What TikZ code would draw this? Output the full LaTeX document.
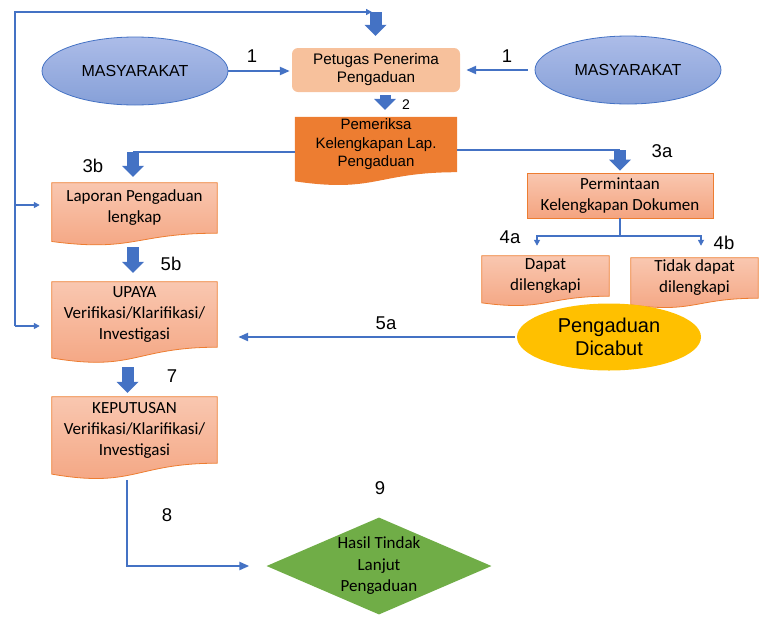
\documentclass[tikz,border=0pt]{standalone}
\usepackage{fontspec}
\newfontfamily\arialf{Liberation Sans}
\newfontfamily\calf{Carlito}
\usetikzlibrary{shapes.geometric,arrows.meta,calc,backgrounds}
\definecolor{lineblue}{HTML}{4472C4}
\definecolor{ellTop}{RGB}{172,188,232}
\definecolor{ellBot}{RGB}{134,160,216}
\definecolor{peach}{HTML}{F7C19C}
\definecolor{darkorange}{HTML}{ED7D31}
\definecolor{salTop}{RGB}{249,199,176}
\definecolor{salBot}{RGB}{244,164,128}
\definecolor{goldfill}{HTML}{FFC000}
\definecolor{leafgreen}{HTML}{70AD47}
% document (wavy bottom) outline around a node whose box is the upper body
\newcommand{\docpath}[2]{%
  \path[#2] let \p1=(#1.north west), \p2=(#1.south east), \n1={\y1-\y2} in
    (\x1,\y1) -- (\x2,\y1) -- (\x2,\y2)
    .. controls ({(\x1+\x2)/2},\y2) and ({(\x1+\x2)/2},{\y2-0.380*\n1}) ..
    (\x1,{\y2-0.1646*\n1}) -- cycle;}
\begin{document}
\begin{tikzpicture}[x=1pt,y=-1pt,
  ell/.style={ellipse, draw=lineblue, line width=0.8pt, top color=ellTop, bottom color=ellBot,
    minimum width=186pt, minimum height=68pt, inner sep=0pt,
    font=\arialf\fontsize{16pt}{19pt}\selectfont},
  pet/.style={rectangle, rounded corners=6pt, fill=peach, minimum width=168pt, minimum height=44pt,
    inner sep=0pt, align=center, font=\arialf\fontsize{15.3pt}{18pt}\selectfont},
  docn/.style={rectangle, inner sep=0pt, align=center, font=\calf\fontsize{17pt}{21pt}\selectfont},
  salfill/.style={top color=salTop, bottom color=salBot, draw=darkorange, line width=0.8pt},
  salrect/.style={rectangle, salfill, inner sep=0pt, align=center, minimum width=186pt, minimum height=45pt,
    font=\calf\fontsize{17pt}{21pt}\selectfont},
  goldell/.style={ellipse, fill=goldfill, minimum width=184pt, minimum height=67pt, inner sep=0pt,
    align=center, font=\arialf\fontsize{20pt}{23pt}\selectfont},
  dia/.style={diamond, fill=leafgreen, minimum width=225pt, minimum height=97pt, inner sep=-3pt,
    aspect=2.32, align=center, font=\calf\fontsize{17pt}{21.5pt}\selectfont},
  num/.style={inner sep=0pt, font=\arialf\fontsize{18.5pt}{20pt}\selectfont},
  numsmall/.style={inner sep=0pt, font=\arialf\fontsize{14pt}{16pt}\selectfont},
  line/.style={draw=lineblue, line width=2.3pt},
  arr/.style={line, -{Triangle[length=10pt,width=8pt]}},
  sarr/.style={draw=lineblue, line width=2pt, -{Triangle[length=6pt,width=6pt]}},
  barrow/.style={draw=lineblue, line width=12pt, -{Triangle[length=11pt,width=22pt,line width=0pt]}}
]
\useasboundingbox (0,0) rectangle (759,627);

% nodes
\node[ell] (m1) at (135,71) {MASYARAKAT};
\node[ell] (m2) at (628,70) {MASYARAKAT};
\node[pet] (pet) at (376,70) {Petugas Penerima\\Pengaduan};
\node[docn, minimum width=162pt, minimum height=55pt, font=\arialf\fontsize{15pt}{18.5pt}\selectfont] (pem) at (376,144.5) {Pemeriksa\\Kelengkapan Lap.\\Pengaduan};
\node[docn, minimum width=165pt, minimum height=50pt] (lap) at (134.5,208) {Laporan Pengaduan\\lengkap};
\node[docn, minimum width=165pt, minimum height=65pt] (upaya) at (134.5,314.5) {UPAYA\\Verifikasi/Klarifikasi/\\Investigasi};
\node[docn, minimum width=165pt, minimum height=66pt] (kep) at (134.5,430) {KEPUTUSAN\\Verifikasi/Klarifikasi/\\Investigasi};
\node[salrect] (perm) at (620,195.5) {Permintaan\\Kelengkapan Dokumen};
\node[docn, minimum width=127pt, minimum height=40pt] (dapat) at (545.5,276) {Dapat\\dilengkapi};
\node[docn, minimum width=127pt, minimum height=40pt] (tidak) at (694.5,278) {Tidak dapat\\dilengkapi};
\node[goldell] (dic) at (609,337) {Pengaduan\\Dicabut};
\node[dia] (dia) at (379,566) {Hasil Tindak\\Lanjut\\Pengaduan};

% document shapes behind the text
\begin{scope}[on background layer]
  \docpath{pem}{fill=darkorange}
  \docpath{lap}{salfill}
  \docpath{upaya}{salfill}
  \docpath{kep}{salfill}
  \docpath{dapat}{salfill}
  \docpath{tidak}{salfill}
\end{scope}

% labels
\node[num] (n1a) at (252,56) {1};
\node[num] (n1b) at (507,56) {1};
\node[numsmall] (n2) at (406,105) {2};
\node[num] (n3b) at (93,166) {3b};
\node[num] (n3a) at (662,151) {3a};
\node[num] (n4a) at (510,237) {4a};
\node[num] (n4b) at (724,243) {4b};
\node[num] (n5b) at (171,264) {5b};
\node[num] (n5a) at (386,323) {5a};
\node[num] (n7) at (172,376) {7};
\node[num] (n8) at (167,515) {8};
\node[num] (n9) at (380,488) {9};

% coordinates
\coordinate (lt) at (15,12);
\coordinate (lm) at (15,205);
\coordinate (lb) at (15,326);
\coordinate (topin) at (375.5,12);
\coordinate (c3b) at (133,152);
\coordinate (c3a) at (620,150);
\coordinate (br) at (620,236);
\coordinate (b4a) at (537,236);
\coordinate (b4b) at (701,236);
\coordinate (c8) at (127,480);

% connectors
\draw[arr, shorten >=2pt] (m1.east) -- (m1.east -| pet.west);
\draw[arr, shorten <=7pt, shorten >=6pt] (m2.west) -- (m2.west -| pet.east);

\draw[barrow, shorten >=12pt] (topin) -- (topin |- pet.north);
\draw[sarr, shorten >=3.5pt] (lb) -- (lt) -- (topin);
\draw[sarr, shorten >=12pt] (lm) -- (lm -| lap.west);
\draw[sarr, shorten >=12pt] (lb) -- (lb -| upaya.west);

\draw[barrow, line width=11pt, shorten <=3pt, shorten >=7pt] ([xshift=9pt]pet.south) -- ([xshift=9pt]pem.north);

\draw[line] (c3b -| pem.west) -- (c3b);
\draw[barrow, shorten >=6pt] (c3b) -- (c3b |- lap.north);
\draw[line] (c3a -| pem.east) -- (c3a);
\draw[barrow, shorten >=2pt] (c3a) -- (c3a |- perm.north);

\draw[line] (perm.south) -- (br);
\draw[sarr, shorten >=10pt] (br) -- (b4a) -- (b4a |- dapat.north);
\draw[sarr, shorten >=12pt] (br) -- (b4b) -- (b4b |- tidak.north);

\draw[barrow, shorten <=14pt, shorten >=9pt] ([xshift=-1.5pt]lap.south) -- ([xshift=-1.5pt]upaya.north);
\draw[barrow, shorten <=20pt, shorten >=4pt] ([xshift=-7pt]upaya.south) -- ([xshift=-7pt]kep.north);

\draw[arr, shorten <=2pt, shorten >=21pt] (dic.west) -- (dic.west -| upaya.east);
\draw[arr, shorten >=17pt] (c8) -- (c8 |- dia.west) -- (dia.west);
\end{tikzpicture}
\end{document}
